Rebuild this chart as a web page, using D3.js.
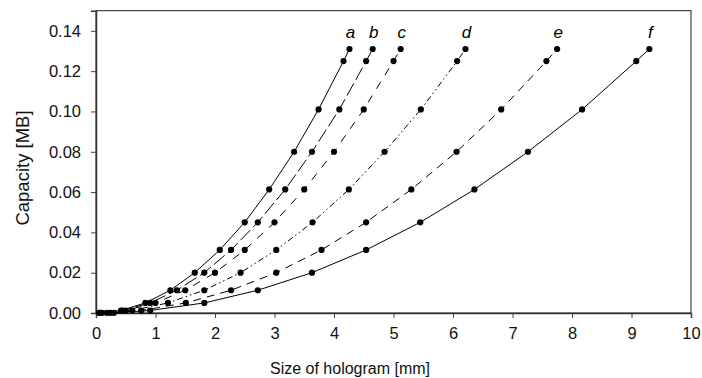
<!DOCTYPE html>
<html>
<head>
<meta charset="utf-8">
<script src="https://cdn.jsdelivr.net/npm/d3@7/dist/d3.min.js"></script>
<style>
  html, body { margin: 0; padding: 0; background: #fff; }
  svg { display: block; font-family: "Liberation Sans", Arial, sans-serif; }
</style>
</head>
<body>
<svg id="chart" width="702" height="378"></svg>
<script>
// Capacity levels shared by all curves [MB]
const capacity = [0.0001, 0.00125, 0.005, 0.0113, 0.020, 0.0313, 0.045, 0.0613, 0.080, 0.101, 0.125, 0.131];

// Hologram sizes [mm] for each curve, one per capacity level
const sizeA = [0.05, 0.42, 0.83, 1.25, 1.66, 2.08, 2.50, 2.91, 3.33, 3.74, 4.16, 4.26];
const sizeB = [0.07, 0.45, 0.91, 1.36, 1.82, 2.27, 2.72, 3.18, 3.63, 4.09, 4.54, 4.65];
const sizeC = [0.10, 0.50, 1.00, 1.50, 2.00, 2.50, 3.00, 3.50, 4.00, 4.50, 5.00, 5.12];
const sizeD = [0.18, 0.61, 1.21, 1.82, 2.43, 3.03, 3.64, 4.25, 4.85, 5.46, 6.07, 6.21];
const sizeE = [0.24, 0.76, 1.51, 2.27, 3.03, 3.79, 4.54, 5.30, 6.06, 6.81, 7.57, 7.75];
const sizeF = [0.30, 0.91, 1.82, 2.72, 3.63, 4.54, 5.45, 6.36, 7.26, 8.17, 9.08, 9.30];

const curveNames = ["a", "b", "c", "d", "e", "f"];
const curveSizes = [sizeA, sizeB, sizeC, sizeD, sizeE, sizeF];
const curveDash  = [null, "14,4", "8,8", "6,3,1.5,3,1.5,3", "8,6", null];

const xTicks = [0, 1, 2, 3, 4, 5, 6, 7, 8, 9, 10];
const yTicks = [0.00, 0.02, 0.04, 0.06, 0.08, 0.10, 0.12, 0.14];

const W = 702, H = 378;
const margin = { top: 10.7, right: 11, bottom: 65, left: 96 };

const svg = d3.select("#chart");
const x = d3.scaleLinear().domain([0, 10]).range([margin.left, W - margin.right]);
const y = d3.scaleLinear().domain([0, 0.15]).range([H - margin.bottom, margin.top]);

// frame
svg.append("rect")
  .attr("x", x(0)).attr("y", y(0.15))
  .attr("width", x(10) - x(0)).attr("height", y(0) - y(0.15))
  .attr("fill", "none").attr("stroke", "#222").attr("stroke-width", 1);

// axes
const xAxis = svg.append("g")
  .attr("transform", `translate(0,${y(0)})`)
  .call(d3.axisBottom(x).tickValues(xTicks).tickFormat(d3.format("d")).tickSize(5).tickPadding(9));
const yAxis = svg.append("g")
  .attr("transform", `translate(${x(0)},0)`)
  .call(d3.axisLeft(y).tickValues(yTicks).tickFormat(d3.format(".2f")).tickSize(5).tickPadding(10));

[xAxis, yAxis].forEach(g => {
  g.select(".domain").attr("stroke", "#333").attr("stroke-width", 1.5);
  g.selectAll(".tick line").attr("stroke", "#444");
  g.selectAll(".tick text").attr("font-size", 16.5).attr("fill", "#111")
    .attr("font-family", "'Liberation Sans', Arial, sans-serif");
});

// axis titles
svg.append("text")
  .attr("x", 350).attr("y", 374)
  .attr("text-anchor", "middle").attr("font-size", 16).attr("fill", "#111")
  .text("Size of hologram [mm]");
svg.append("text")
  .attr("transform", `translate(29,168) rotate(-90)`)
  .attr("text-anchor", "middle").attr("font-size", 18.5).attr("fill", "#111")
  .text("Capacity [MB]");

// curves
const line = d3.line()
  .x(d => x(d[0]))
  .y(d => y(d[1]))
  .curve(d3.curveLinear);

curveSizes.forEach((sizes, i) => {
  const pts = sizes.map((s, j) => [s, capacity[j]]);
  const g = svg.append("g").attr("class", "curve-" + curveNames[i]);
  g.append("path")
    .attr("d", line(pts))
    .attr("fill", "none")
    .attr("stroke", "#000")
    .attr("stroke-width", 1)
    .attr("stroke-dasharray", curveDash[i]);
  g.selectAll("circle")
    .data(pts)
    .join("circle")
    .attr("cx", d => x(d[0]))
    .attr("cy", d => y(d[1]))
    .attr("r", 3.1)
    .attr("fill", "#000");
  const top = pts[pts.length - 1];
  g.append("text")
    .attr("x", x(top[0]) + 1)
    .attr("y", y(top[1]) - 11)
    .attr("text-anchor", "middle")
    .attr("font-size", 17)
    .attr("font-style", "italic")
    .attr("fill", "#000")
    .text(curveNames[i]);
});
</script>
</body>
</html>
